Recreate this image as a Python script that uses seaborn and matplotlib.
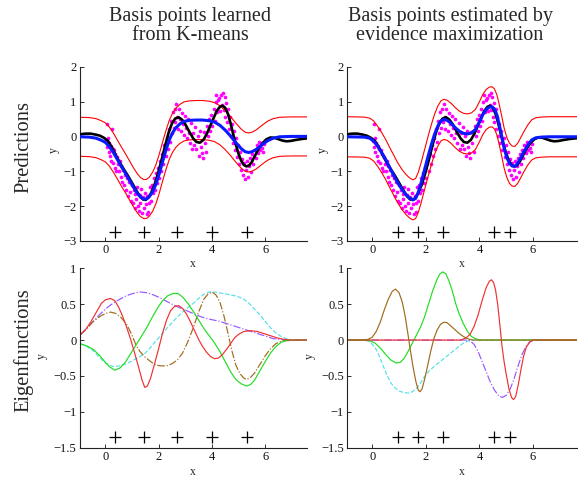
import numpy as np
import matplotlib
matplotlib.use("Agg")
import matplotlib.pyplot as plt
import seaborn as sns

sns.set_style("ticks")
plt.rcParams['font.family'] = ['Liberation Serif', 'DejaVu Serif']
plt.rcParams['axes.unicode_minus'] = True

# ---------------- data ----------------
titles = ["Basis points learned\nfrom K-means", "Basis points estimated by\nevidence maximization"]
row_labels = ["Predictions", "Eigenfunctions"]

# noisy observations (same in both prediction panels)
obs_x = [0.02, 0.05, 0.08, 0.1, 0.12, 0.15, 0.18, 0.2, 0.22, 0.25, 0.27, 0.3, 0.33, 0.36, 0.38, 0.41, 0.44, 0.47,
         0.5, 0.54, 0.57, 0.6, 0.64, 0.68, 0.71, 0.75, 0.78, 0.82, 0.86, 0.9, 0.93, 0.97,
         1.0, 1.04, 1.07, 1.1, 1.13, 1.16, 1.2, 1.23, 1.26, 1.29, 1.32, 1.35, 1.38, 1.42, 1.45, 1.48, 1.52, 1.55,
         1.58, 1.62, 1.65, 1.68, 1.72, 1.75, 1.78, 1.82, 1.86, 1.9, 1.94, 1.98,
         2.02, 2.06, 2.1, 2.14, 2.18, 2.22, 2.26, 2.3, 2.34, 2.38, 2.42, 2.46, 2.5, 2.54, 2.57, 2.6, 2.63, 2.66,
         2.7, 2.73, 2.76, 2.8, 2.83, 2.86, 2.9, 2.94, 2.98,
         3.02, 3.06, 3.1, 3.14, 3.18, 3.22, 3.26, 3.3, 3.34, 3.38, 3.42, 3.46, 3.5, 3.54, 3.58, 3.62, 3.66, 3.7,
         3.74, 3.78, 3.82, 3.86, 3.9, 3.94, 3.98,
         4.02, 4.06, 4.1, 4.14, 4.17, 4.2, 4.24, 4.28, 4.31, 4.35, 4.38, 4.42, 4.45, 4.48, 4.5, 4.53, 4.56, 4.6,
         4.63, 4.67, 4.7, 4.74, 4.78, 4.82, 4.86, 4.9, 4.94, 4.98,
         5.02, 5.06, 5.1, 5.14, 5.18, 5.22, 5.25, 5.28, 5.32, 5.36, 5.4, 5.44, 5.48, 5.52, 5.56, 5.6, 5.64, 5.68,
         5.72, 5.76, 5.8, 5.84, 5.88, 5.92, 5.96]
obs_y = [-0.12, -0.3, 0.35, -0.05, -0.45, -0.2, -0.55, -0.28, -0.7, 0.2, -0.35, -0.75, -0.4, -0.9, -0.5, -0.98, -0.6, -0.8,
         -1.0, -0.7, -1.15, -0.85, -1.3, -0.95, -1.4, -1.1, -1.55, -1.2, -1.7, -1.3, -1.6, -1.85,
         -1.4, -1.9, -1.55, -2.05, -1.65, -1.8, -1.45, -2.0, -2.15, -1.68, -1.9, -1.5, -2.2, -1.75, -2.05, -1.62, -1.95, -2.22,
         -1.7, -2.18, -1.92, -1.45, -1.85, -1.38, -1.62, -1.2, -1.55, -1.05, -1.35, -0.9,
         -1.2, -0.7, -1.0, -0.5, -0.8, -0.25, -0.55, -0.05, -0.35, 0.2, -0.15, 0.45, 0.1, 0.7, 0.25, 0.8, 0.4, 0.92,
         0.55, 0.2, 0.78, 0.5, 0.15, 0.68, 0.35, 0.05, 0.58,
         0.25, -0.05, 0.5, 0.1, -0.2, 0.38, -0.37, 0.1, -0.25, 0.28, -0.35, 0.02, -0.55, 0.15, -0.3, -0.48, -0.62, 0.12,
         -0.2, -0.45, 0.3, 0.0, 0.5, 0.15, 0.62,
         0.3, 0.78, 0.45, 1.0, 1.19, 0.7, 1.05, 1.1, 0.72, 1.18, 0.9, 1.25, 0.75, 1.12, 0.55, 0.95, 0.4, 0.8,
         0.2, 0.55, 0.0, 0.35, -0.2, 0.15, -0.38, -0.05, -0.6, -0.25,
         -0.78, -0.45, -0.95, -0.65, -1.1, -0.75, -1.22, -0.95, -0.7, -1.15, -0.85, -0.62, -1.02, -0.5, -0.78, -0.38, -0.62, -0.25,
         -0.48, -0.15, -0.4, -0.2, -0.32, -0.44, -0.22]

# true function (black)
true_x = [-0.95, -0.75, -0.55, -0.35, -0.2, -0.05, 0.1, 0.25, 0.4, 0.55, 0.7, 0.85, 1.0, 1.15, 1.3, 1.42, 1.52,
          1.62, 1.72, 1.85, 2.0, 2.12, 2.25, 2.38, 2.5, 2.62, 2.75, 2.88, 3.0, 3.15, 3.3, 3.42, 3.55, 3.68, 3.8,
          3.92, 4.05, 4.18, 4.3, 4.4, 4.5, 4.6, 4.7, 4.8, 4.9, 5.0, 5.1, 5.2, 5.3, 5.4, 5.5, 5.62, 5.75, 5.9,
          6.05, 6.2, 6.35, 6.5, 6.65, 6.8, 6.95, 7.15, 7.4, 7.65]
true_y = [0.06, 0.08, 0.08, 0.05, 0.02, -0.04, -0.13, -0.32, -0.55, -0.76, -0.95, -1.13, -1.33, -1.53, -1.72, -1.81,
          -1.82, -1.75, -1.62, -1.38, -1.0, -0.65, -0.25, 0.12, 0.37, 0.51, 0.55, 0.48, 0.35, 0.14, -0.06, -0.16,
          -0.18, -0.1, 0.06, 0.27, 0.5, 0.73, 0.85, 0.88, 0.82, 0.65, 0.38, 0.06, -0.24, -0.5, -0.7, -0.82, -0.86,
          -0.83, -0.73, -0.55, -0.36, -0.19, -0.08, -0.03, -0.04, -0.08, -0.12, -0.14, -0.13, -0.1, -0.07, -0.05]

# predictive mean, K-means basis (blue, left)
km_mean_x = [-0.95, -0.6, -0.35, -0.15, 0.0, 0.15, 0.3, 0.45, 0.6, 0.75, 0.9, 1.05, 1.2, 1.32, 1.45, 1.55, 1.65,
             1.78, 1.9, 2.02, 2.15, 2.28, 2.4, 2.52, 2.65, 2.8, 2.95, 3.15, 3.4, 3.65, 3.9, 4.1, 4.3, 4.5, 4.7,
             4.9, 5.1, 5.25, 5.38, 5.5, 5.65, 5.8, 5.95, 6.1, 6.3, 6.55, 7.0, 7.65]
km_mean_y = [-0.01, -0.02, -0.05, -0.11, -0.17, -0.29, -0.46, -0.66, -0.86, -1.05, -1.25, -1.45, -1.63, -1.74,
             -1.8, -1.79, -1.73, -1.58, -1.37, -1.08, -0.72, -0.38, -0.1, 0.1, 0.25, 0.36, 0.43, 0.46, 0.47, 0.47,
             0.45, 0.41, 0.32, 0.18, 0.01, -0.18, -0.35, -0.44, -0.46, -0.44, -0.38, -0.29, -0.2, -0.12, -0.05,
             -0.01, 0.0, 0.0]
km_band = 0.56

# predictive mean, evidence-maximised basis (blue, right)
em_mean_x = [-0.95, -0.3, -0.1, 0.05, 0.2, 0.35, 0.5, 0.65, 0.8, 0.95, 1.1, 1.25, 1.4, 1.52, 1.62, 1.72, 1.82,
             1.92, 2.02, 2.12, 2.22, 2.32, 2.45, 2.57, 2.68, 2.8, 2.95, 3.1, 3.25, 3.4, 3.55, 3.7, 3.85, 4.0, 4.12,
             4.25, 4.37, 4.47, 4.56, 4.65, 4.73, 4.82, 4.92, 5.02, 5.12, 5.22, 5.32, 5.42, 5.52, 5.65, 5.8, 5.95,
             6.1, 6.3, 6.6, 7.65]
em_mean_y = [-0.01, -0.02, -0.05, -0.13, -0.28, -0.46, -0.66, -0.89, -1.11, -1.33, -1.51, -1.66, -1.77, -1.82,
             -1.78, -1.6, -1.34, -1.05, -0.76, -0.47, -0.2, 0.05, 0.3, 0.45, 0.49, 0.46, 0.37, 0.25, 0.15, 0.09,
             0.07, 0.1, 0.2, 0.42, 0.62, 0.77, 0.84, 0.85, 0.79, 0.62, 0.37, 0.05, -0.33, -0.6, -0.77, -0.85,
             -0.86, -0.78, -0.64, -0.45, -0.25, -0.1, -0.04, -0.02, -0.01, -0.01]
em_band = 0.575

# basis point locations
km_centres = [0.35, 1.47, 2.68, 4.0, 5.31]
em_centres = [0.96, 1.7, 2.63, 4.56, 5.13]
pred_marker_y = -2.74
eig_marker_y = -1.35

# eigenfunctions, K-means basis (bottom left)
kl_red_x = [-0.95, -0.75, -0.55, -0.35, -0.15, 0.0, 0.19, 0.35, 0.5, 0.65, 0.8, 0.95, 1.1, 1.25, 1.38, 1.48, 1.58,
            1.7, 1.85, 2.0, 2.15, 2.3, 2.45, 2.6, 2.76, 2.9, 3.05, 3.2, 3.35, 3.5, 3.65, 3.8, 3.95, 4.1, 4.25, 4.4,
            4.55, 4.7, 4.85, 5.0, 5.2, 5.45, 5.7, 5.95, 6.2, 6.45, 6.7, 7.0, 7.6]
kl_red_y = [0.07, 0.14, 0.25, 0.38, 0.51, 0.56, 0.58, 0.55, 0.46, 0.33, 0.18, 0.01, -0.18, -0.38, -0.56, -0.66,
            -0.64, -0.53, -0.33, -0.12, 0.1, 0.28, 0.41, 0.47, 0.48, 0.44, 0.36, 0.25, 0.13, 0.01, -0.09, -0.17,
            -0.23, -0.26, -0.25, -0.2, -0.13, -0.05, 0.03, 0.08, 0.12, 0.13, 0.12, 0.09, 0.06, 0.03, 0.01, 0.0, 0.0]
kl_green_x = [-0.95, -0.7, -0.45, -0.2, 0.0, 0.15, 0.35, 0.55, 0.75, 0.95, 1.15, 1.35, 1.55, 1.75, 1.95, 2.15,
              2.35, 2.55, 2.72, 2.9, 3.1, 3.3, 3.5, 3.7, 3.9, 4.1, 4.3, 4.5, 4.7, 4.9, 5.1, 5.3, 5.45, 5.6, 5.8,
              6.0, 6.2, 6.4, 6.6, 6.85, 7.6]
kl_green_y = [-0.05, -0.08, -0.13, -0.22, -0.31, -0.37, -0.42, -0.39, -0.31, -0.19, -0.07, 0.05, 0.17, 0.31, 0.44,
              0.55, 0.62, 0.65, 0.65, 0.6, 0.51, 0.4, 0.28, 0.16, 0.06, -0.04, -0.16, -0.3, -0.44, -0.55, -0.61,
              -0.64, -0.62, -0.56, -0.43, -0.3, -0.18, -0.09, -0.03, 0.0, 0.0]
kl_purple_x = [-0.95, -0.7, -0.45, -0.2, 0.0, 0.2, 0.41, 0.6, 0.8, 1.05, 1.3, 1.55, 1.8, 2.05, 2.3, 2.55, 2.8,
               3.05, 3.3, 3.55, 3.8, 4.05, 4.3, 4.55, 4.8, 5.05, 5.3, 5.55, 5.8, 6.05, 6.3, 6.55, 6.8, 7.6]
kl_purple_y = [0.07, 0.16, 0.26, 0.36, 0.43, 0.49, 0.54, 0.58, 0.62, 0.65, 0.67, 0.66, 0.63, 0.59, 0.54, 0.49,
               0.45, 0.41, 0.37, 0.33, 0.30, 0.28, 0.26, 0.23, 0.2, 0.17, 0.14, 0.11, 0.08, 0.05, 0.02, 0.01, 0.0, 0.0]
kl_brown_x = [-0.95, -0.7, -0.45, -0.2, 0.0, 0.2, 0.4, 0.6, 0.8, 1.0, 1.15, 1.3, 1.5, 1.7, 1.9, 2.1, 2.3, 2.5,
              2.7, 2.9, 3.1, 3.3, 3.5, 3.7, 3.85, 4.0, 4.15, 4.3, 4.45, 4.6, 4.75, 4.9, 5.05, 5.2, 5.3, 5.45, 5.6,
              5.8, 6.0, 6.2, 6.4, 6.65, 7.6]
kl_brown_y = [0.07, 0.16, 0.26, 0.33, 0.37, 0.39, 0.37, 0.31, 0.22, 0.07, -0.07, -0.16, -0.24, -0.3, -0.35, -0.36,
              -0.36, -0.33, -0.28, -0.18, -0.02, 0.17, 0.39, 0.57, 0.64, 0.67, 0.63, 0.53, 0.34, 0.1, -0.15, -0.35,
              -0.47, -0.53, -0.55, -0.52, -0.46, -0.34, -0.22, -0.12, -0.05, -0.01, 0.0]
kl_cyan_x = [-0.95, -0.7, -0.45, -0.2, 0.0, 0.29, 0.55, 0.8, 1.05, 1.3, 1.5, 1.7, 1.9, 2.1, 2.3, 2.5, 2.7, 2.9,
             3.1, 3.3, 3.5, 3.7, 3.9, 4.1, 4.4, 4.7, 4.95, 5.2, 5.4, 5.6, 5.8, 6.0, 6.2, 6.4, 6.6, 6.8, 7.0, 7.6]
kl_cyan_y = [-0.05, -0.09, -0.15, -0.25, -0.32, -0.37, -0.36, -0.33, -0.28, -0.23, -0.18, -0.1, -0.01, 0.07, 0.16,
             0.24, 0.32, 0.39, 0.45, 0.51, 0.58, 0.64, 0.67, 0.67, 0.65, 0.63, 0.61, 0.57, 0.51, 0.43, 0.35, 0.26,
             0.17, 0.1, 0.05, 0.02, 0.0, 0.0]

# eigenfunctions, evidence-maximised basis (bottom right)
er_brown_x = [-0.95, -0.35, -0.15, 0.0, 0.15, 0.3, 0.45, 0.6, 0.75, 0.87, 1.0, 1.12, 1.23, 1.33, 1.43, 1.53,
              1.63, 1.72, 1.78, 1.86, 1.96, 2.07, 2.18, 2.3, 2.42, 2.55, 2.68, 2.8, 2.95, 3.1, 3.25, 3.4, 3.55,
              3.75, 7.65]
er_brown_y = [0.0, 0.0, 0.01, 0.04, 0.12, 0.25, 0.42, 0.57, 0.68, 0.71, 0.66, 0.53, 0.33, 0.09, -0.16, -0.39,
              -0.58, -0.7, -0.72, -0.68, -0.54, -0.35, -0.16, 0.02, 0.14, 0.22, 0.25, 0.24, 0.19, 0.14, 0.09, 0.05,
              0.02, 0.0, 0.0]
er_green_x = [-0.95, -0.3, -0.1, 0.1, 0.3, 0.5, 0.7, 0.9, 1.05, 1.2, 1.35, 1.5, 1.65, 1.8, 1.95, 2.1, 2.25, 2.4,
              2.52, 2.63, 2.75, 2.87, 3.0, 3.12, 3.25, 3.4, 3.55, 3.7, 3.85, 4.0, 7.65]
er_green_y = [0.0, 0.0, -0.01, -0.04, -0.11, -0.2, -0.28, -0.32, -0.31, -0.25, -0.15, -0.04, 0.07, 0.18, 0.32,
              0.5, 0.68, 0.83, 0.92, 0.95, 0.92, 0.82, 0.67, 0.5, 0.36, 0.23, 0.12, 0.05, 0.02, 0.0, 0.0]
er_red_x = [-0.95, 3.3, 3.5, 3.65, 3.8, 3.95, 4.1, 4.25, 4.37, 4.45, 4.53, 4.6, 4.68, 4.76, 4.84, 4.92, 5.0, 5.1,
            5.2, 5.27, 5.35, 5.45, 5.55, 5.65, 5.75, 5.87, 6.0, 7.65]
er_red_y = [0.0, 0.0, 0.03, 0.08, 0.19, 0.35, 0.55, 0.73, 0.82, 0.84, 0.8, 0.7, 0.5, 0.22, -0.08, -0.3, -0.48,
            -0.68, -0.8, -0.83, -0.79, -0.62, -0.41, -0.22, -0.1, -0.03, 0.0, 0.0]
er_cyan_x = [-0.95, -0.3, -0.1, 0.1, 0.25, 0.4, 0.55, 0.7, 0.86, 1.0, 1.17, 1.35, 1.5, 1.66, 1.8, 1.95, 2.1, 2.3,
             2.5, 2.7, 2.9, 3.1, 3.3, 3.45, 3.6, 3.75, 7.65]
er_cyan_y = [0.0, 0.0, -0.02, -0.1, -0.21, -0.35, -0.49, -0.6, -0.67, -0.71, -0.73, -0.74, -0.72, -0.67, -0.6,
             -0.51, -0.44, -0.37, -0.31, -0.25, -0.19, -0.13, -0.07, -0.03, -0.01, 0.0, 0.0]
er_purple_x = [-0.95, 3.5, 3.65, 3.8, 3.95, 4.1, 4.25, 4.4, 4.55, 4.7, 4.85, 5.0, 5.15, 5.3, 5.45, 5.6, 5.75, 5.9,
               6.05, 7.65]
er_purple_y = [0.0, 0.0, -0.01, -0.06, -0.16, -0.3, -0.44, -0.58, -0.69, -0.77, -0.8, -0.77, -0.68, -0.53, -0.35,
               -0.19, -0.08, -0.02, 0.0, 0.0]

pred_yticks = [-3, -2, -1, 0, 1, 2]
eig_yticks = [-1.5, -1, -0.5, 0, 0.5, 1]
xticks = [0, 2, 4, 6]

# ---------------- styles ----------------
RED = '#ff0000'
MAG = '#ff00ff'
BLUE = '#0a1aff'
C_RED = '#f03030'
C_GREEN = '#22dd22'
C_PURPLE = '#9955ff'
C_BROWN = '#a06a1a'
C_CYAN = '#55e0e8'

W, H = 578, 478
fig = plt.figure(figsize=(W / 100, H / 100), dpi=100)

def px_axes(x0, x1, ytop, ybot):
    return fig.add_axes([x0 / W, 1 - ybot / H, (x1 - x0) / W, (ybot - ytop) / H])

ax_tl = px_axes(80, 306.5, 66.7, 241)
ax_tr = px_axes(347.3, 577, 66.7, 241)
ax_bl = px_axes(80, 306.5, 268.3, 447.7)
ax_br = px_axes(347.3, 577, 268.3, 447.7)

def line(ax, xs, ys, color, lw, ls='-', z=2):
    sns.lineplot(x=list(xs), y=list(ys), ax=ax, color=color, linewidth=lw, linestyle=ls,
                 sort=False, estimator=None, errorbar=None, legend=False, zorder=z)

def fmt(v):
    return ('%g' % v).replace('-', '\u2212')

def style(ax, xlim, ylim, yticks, yl_x, yl_y):
    ax.set_xlim(*xlim)
    ax.set_ylim(*ylim)
    ax.set_xticks(xticks)
    ax.set_xticklabels([fmt(t) for t in xticks])
    ax.set_yticks(yticks)
    ax.set_yticklabels([fmt(t) for t in yticks])
    sns.despine(ax=ax)
    for sp in ['left', 'bottom']:
        ax.spines[sp].set_linewidth(0.8)
        ax.spines[sp].set_color('#222222')
    ax.tick_params(direction='in', length=3, width=0.6, labelsize=9, pad=2.5, colors='#111111')
    ax.set_xlabel('x', fontsize=8.5)
    ax.set_ylabel('y', fontsize=8.5)
    ax.xaxis.set_label_coords(0.5, -0.10)
    ax.yaxis.set_label_coords(yl_x, yl_y)
    ax.set_facecolor('none')

# ---- top row: predictions ----
for ax, mx, my, band, centres in [
        (ax_tl, km_mean_x, km_mean_y, km_band, km_centres),
        (ax_tr, em_mean_x, em_mean_y, em_band, em_centres)]:
    sns.scatterplot(x=obs_x, y=obs_y, ax=ax, color=MAG, s=7, marker='o', linewidth=0, legend=False, zorder=1.5)
    line(ax, mx, np.array(my) + band, RED, 0.8)
    line(ax, mx, np.array(my) - band, RED, 0.8)
    line(ax, true_x, true_y, 'black', 1.9, z=3)
    line(ax, mx, my, BLUE, 2.2, z=4)
    sns.scatterplot(x=centres, y=[pred_marker_y] * len(centres), ax=ax, color='black', marker='+',
                    s=85, linewidth=0.9, legend=False, zorder=5)

style(ax_tl, (-0.95, 7.55), (-3, 2), pred_yticks, -0.09, 0.52)
style(ax_tr, (-0.93, 7.64), (-3, 2), pred_yticks, -0.08, 0.52)

# ---- bottom row: eigenfunctions ----
line(ax_bl, kl_cyan_x, kl_cyan_y, C_CYAN, 0.85, '--')
line(ax_bl, kl_purple_x, kl_purple_y, C_PURPLE, 0.85, '-.')
line(ax_bl, kl_brown_x, kl_brown_y, C_BROWN, 0.85, '-.')
line(ax_bl, kl_green_x, kl_green_y, C_GREEN, 0.85)
line(ax_bl, kl_red_x, kl_red_y, C_RED, 0.85)
sns.scatterplot(x=km_centres, y=[eig_marker_y] * len(km_centres), ax=ax_bl, color='black', marker='+',
                s=85, linewidth=0.9, legend=False, zorder=5)

line(ax_br, er_cyan_x, er_cyan_y, C_CYAN, 0.85, '--')
line(ax_br, er_purple_x, er_purple_y, C_PURPLE, 0.85, '-.')
line(ax_br, er_green_x, er_green_y, C_GREEN, 0.85)
line(ax_br, er_red_x, er_red_y, C_RED, 0.85)
line(ax_br, er_brown_x, er_brown_y, C_BROWN, 0.85)
sns.scatterplot(x=em_centres, y=[eig_marker_y] * len(em_centres), ax=ax_br, color='black', marker='+',
                s=85, linewidth=0.9, legend=False, zorder=5)

style(ax_bl, (-0.95, 7.55), (-1.5, 1), eig_yticks, -0.14, 0.51)
style(ax_br, (-0.93, 7.64), (-1.5, 1), eig_yticks, -0.135, 0.51)

# ---- titles and row labels ----
fig.text(190 / W, 1 - 26 / H, titles[0], ha='center', va='center', fontsize=14.5, linespacing=1.0)
fig.text(450 / W, 1 - 26 / H, titles[1], ha='center', va='center', fontsize=14.5, linespacing=1.0)
fig.text(24 / W, 1 - 147 / H, row_labels[0], ha='center', va='center', rotation=90, fontsize=14.8)
fig.text(24 / W, 1 - 350 / H, row_labels[1], ha='center', va='center', rotation=90, fontsize=14.8)

fig.savefig('out.png', dpi=100)
